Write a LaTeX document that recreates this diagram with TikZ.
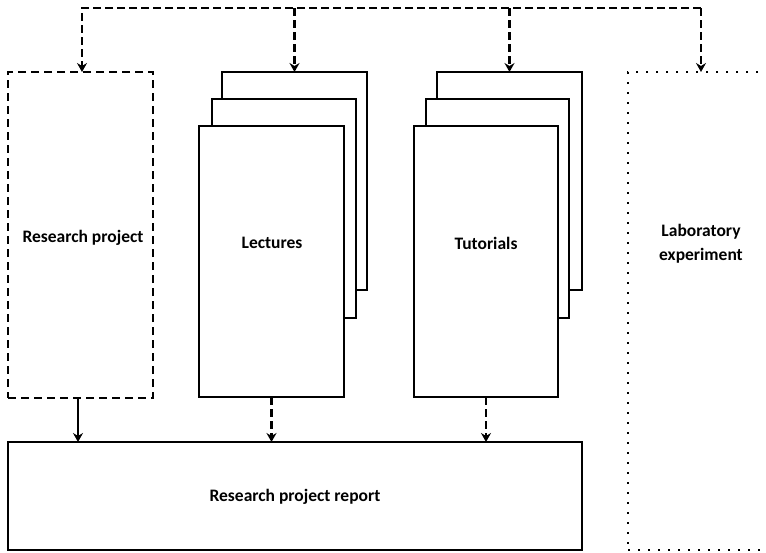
\documentclass[tikz,border=0pt]{standalone}
\usepackage{fontspec}
\setmainfont{Carlito}
\usetikzlibrary{arrows.meta}
\begin{document}
\begin{tikzpicture}[x=1pt,y=-1pt,
  line width=2.4pt,
  box/.style={draw,rectangle,inner sep=0pt,outer sep=0pt,fill=white},
  dashbox/.style={box,dash pattern=on 8pt off 5pt},
  dotbox/.style={box,dash pattern=on 2.4pt off 7.6pt},
  lbl/.style={font=\fontsize{17.5}{24}\selectfont\bfseries,align=center,inner sep=0pt},
  dsh/.style={dash pattern=on 8pt off 4pt},
  arr/.style={-{Stealth[length=9pt,width=10pt,inset=3pt]}}
]
\useasboundingbox (0,0) rectangle (766,552);
\clip (0,0) rectangle (766,552);

% Research project (dashed)
\node[dashbox,minimum width=145pt,minimum height=326pt] (rp) at (80.5,235) {};
\node[lbl] (rpt) at (83,238) {Research project};

% Lectures stack
\node[box,minimum width=145pt,minimum height=218pt] (lec3) at (294.5,181) {};
\node[box,minimum width=144pt,minimum height=219pt] (lec2) at (284,208.5) {};
\node[box,minimum width=145pt,minimum height=271pt] (lec1) at (271.5,261.5) {};
\node[lbl] (lect) at (272,243) {Lectures};

% Tutorials stack
\node[box,minimum width=145pt,minimum height=218pt] (tut3) at (509.5,181) {};
\node[box,minimum width=143pt,minimum height=219pt] (tut2) at (497.5,208.5) {};
\node[box,minimum width=144pt,minimum height=271pt] (tut1) at (486,261.5) {};
\node[lbl] (tutt) at (486,243) {Tutorials};

% Laboratory experiment (dotted, runs off the right edge)
\node[dotbox,minimum width=146pt,minimum height=478pt] (lab) at (701,311) {};
\node[lbl] (labt) at (701,244) {Laboratory\\experiment};

% Research project report
\node[box,minimum width=574pt,minimum height=108pt] (rep) at (295,496) {};
\node[lbl] (rept) at (295,497) {Research project report};

% Top distribution line
\coordinate (tl) at (82,8);
\coordinate (tr) at (701,8);
\draw[dsh,arr] (tr) -- (tl) -- (tl |- rp.north);
\draw[dsh,arr] (tr) -- (lab.north);
\draw[dsh,arr] (lec3.north |- tl) -- (lec3.north);
\draw[dsh,arr] (tut3.north |- tl) -- (tut3.north);

% Feeds into the report
\coordinate (rpout) at (78,0);
\draw[arr] (rpout |- rp.south) -- (rpout |- rep.north);
\draw[dsh,arr] (lec1.south) -- (lec1.south |- rep.north);
\draw[dsh,arr] (tut1.south) -- (tut1.south |- rep.north);
\end{tikzpicture}
\end{document}
